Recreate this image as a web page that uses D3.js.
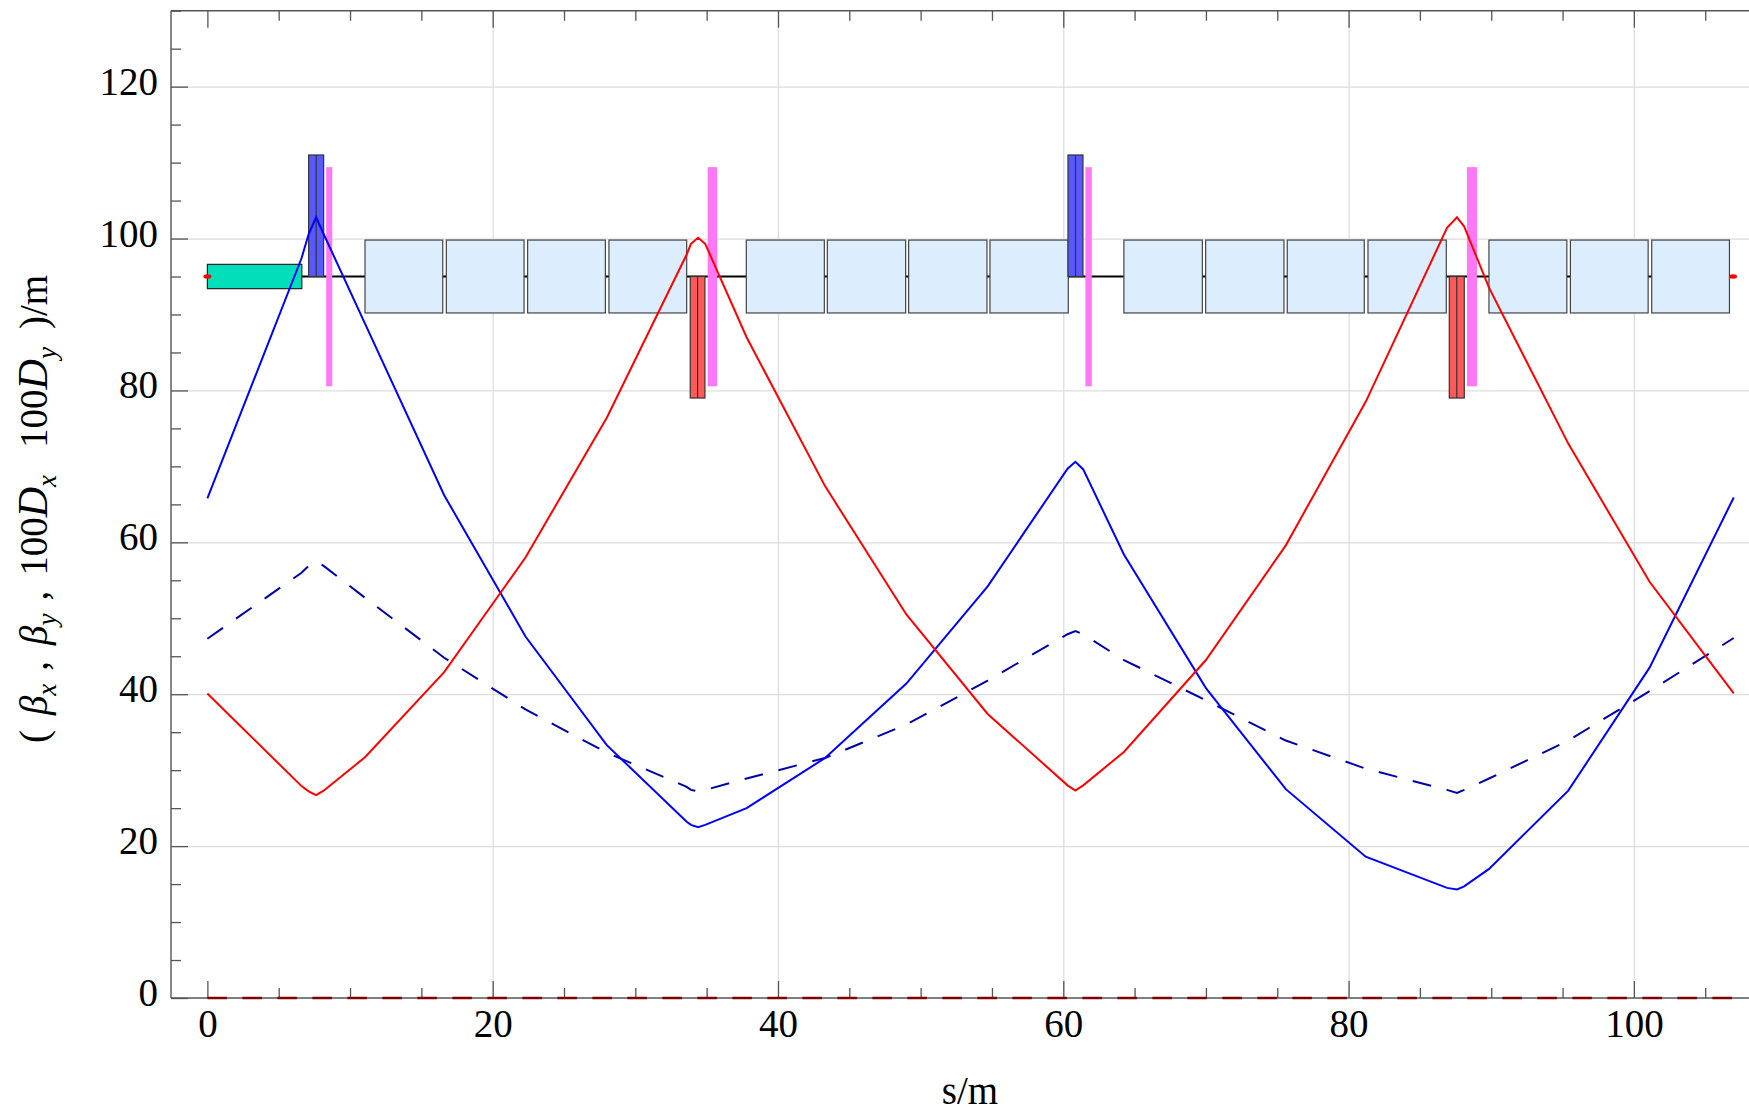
<!DOCTYPE html>
<html>
<head>
<meta charset="utf-8">
<script src="https://cdn.jsdelivr.net/npm/d3@7"></script>
<style>
body { margin: 0; background: #fff; overflow: hidden; }
text { font-family: "Liberation Serif", serif; fill: #000; }
.axis path { display: none; }
.axis line { stroke: #555; stroke-width: 1.3; }
.grid line { stroke: #ddd; stroke-width: 1.3; }
</style>
</head>
<body>
<script>
// tick values
var xMajor = [0, 20, 40, 60, 80, 100];
var xMinor = [5, 10, 15, 25, 30, 35, 45, 50, 55, 65, 70, 75, 85, 90, 95, 105];
var yMajor = [0, 20, 40, 60, 80, 100, 120];
var yMinor = [5, 10, 15, 25, 30, 35, 45, 50, 55, 65, 70, 75, 85, 90, 95, 105, 110, 115, 125, 130];

// optics (s in m)
var sNodes  = [0, 6.6, 7.1, 7.62, 8.15, 11.05, 16.6, 22.3, 28, 33.6, 33.9, 34.4, 34.9, 37.8, 43.3, 49, 54.7, 60.3, 60.85, 61.4, 64.25, 70, 75.6, 81.2, 86.9, 87.6, 88.1, 89.85, 95.4, 101.1, 107];
var betaX   = [40.1, 27.9, 27.2, 26.7, 27.3, 31.7, 42.9, 58, 76.4, 97.9, 99.3, 100.1, 99.3, 87, 67.4, 50.5, 37.4, 28, 27.3, 28, 32.4, 44.5, 59.6, 78.5, 101.4, 102.8, 101.6, 93.5, 73, 54.8, 40.1];
var betaY   = [65.8, 97.4, 100.6, 102.8, 100.6, 88.8, 66.2, 47.6, 33.3, 23.2, 22.8, 22.5, 22.8, 25, 31.6, 41.4, 54.2, 69.7, 70.6, 69.6, 58.4, 40.8, 27.5, 18.6, 14.5, 14.3, 14.7, 17, 27.3, 43.5, 65.9];
var dispX   = [47.3, 56, 56.9, 57.5, 56.9, 52.7, 44.8, 38, 32.3, 27.8, 27.4, 27.2, 27.4, 28.9, 31.6, 36, 41.8, 47.9, 48.3, 47.9, 44.5, 39.2, 33.9, 30.2, 27.4, 27, 27.4, 28.9, 33.9, 40.4, 47.4];
var dispY   = [0, 107];

// lattice elements: start and end in s
var bendStart  = [11.05, 16.75, 22.45, 28.15, 37.78, 43.46, 49.16, 54.86, 64.25, 69.98, 75.7, 81.36, 89.84, 95.55, 101.25];
var bendEnd    = [16.5, 22.2, 27.9, 33.6, 43.25, 48.95, 54.65, 60.35, 69.75, 75.47, 81.1, 86.85, 95.3, 101.0, 106.7];
var rfCavity   = [[0, 6.62]];
var focusQuad  = [[7.1, 8.15], [60.33, 61.38]];
var defocQuad  = [[33.85, 34.88], [87.06, 88.11]];
var sextupole  = [[8.33, 8.75], [35.07, 35.74], [61.55, 62.0], [88.3, 89.0]];
var beamEnds   = [0, 106.95];
var beamLevel  = 95;

var width = 1749, height = 1112;
var plot = {left: 171, top: 10.7, bottom: 998};

var x = d3.scaleLinear().domain([-2.55, 108.07]).range([plot.left, width]);
var y = d3.scaleLinear().domain([0, 130]).range([plot.bottom, plot.top]);

var svg = d3.select("body").append("svg")
    .attr("width", width)
    .attr("height", height)
    .style("display", "block");

// grid
svg.append("g").attr("class", "grid")
    .attr("transform", "translate(0," + plot.bottom + ")")
    .call(d3.axisBottom(x).tickValues(xMajor.slice(1)).tickSize(plot.top - plot.bottom).tickFormat(""));
svg.append("g").attr("class", "grid")
    .attr("transform", "translate(" + plot.left + ",0)")
    .call(d3.axisRight(y).tickValues(yMajor.slice(1)).tickSize(width - plot.left).tickFormat(""));
svg.selectAll(".grid path").remove();

// beam line
var line = d3.line()
    .x(function(d) { return x(d[0]); })
    .y(function(d) { return y(d[1]); });

svg.append("path")
    .attr("d", line(beamEnds.map(function(s) { return [s, beamLevel]; })))
    .attr("fill", "none")
    .attr("stroke", "#000")
    .attr("stroke-width", 1.8);

function drawBlocks(list, y0, y1, fill, stroke) {
  svg.append("g").selectAll("rect")
      .data(list)
    .enter().append("rect")
      .attr("x", function(d) { return x(d[0]); })
      .attr("width", function(d) { return x(d[1]) - x(d[0]); })
      .attr("y", y(y1))
      .attr("height", y(y0) - y(y1))
      .attr("fill", fill)
      .attr("stroke", stroke)
      .attr("stroke-width", stroke == "none" ? 0 : 1.2);
}

// centre line of a quadrupole block
function drawSplit(list, y0, y1) {
  svg.append("g").selectAll("line")
      .data(list)
    .enter().append("line")
      .attr("x1", function(d) { return x((d[0] + d[1]) / 2); })
      .attr("x2", function(d) { return x((d[0] + d[1]) / 2); })
      .attr("y1", y(y0))
      .attr("y2", y(y1))
      .attr("stroke", "#333")
      .attr("stroke-width", 1.2);
}

drawBlocks(bendStart.map(function(s, i) { return [s, bendEnd[i]]; }), 90.2, 99.8, "#dcedfd", "#444");
drawBlocks(rfCavity, 93.4, 96.6, "#00dfba", "#222");
drawBlocks(focusQuad, 95, 111, "#5858ff", "#333");
drawSplit(focusQuad, 95, 111);
drawBlocks(defocQuad, 79, 95, "#ff5858", "#333");
drawSplit(defocQuad, 79, 95);
drawBlocks(sextupole, 80.55, 109.4, "#ff78f8", "none");

// end markers
svg.append("g").selectAll("ellipse")
    .data(beamEnds)
  .enter().append("ellipse")
    .attr("cx", function(d) { return x(d); })
    .attr("cy", y(beamLevel))
    .attr("rx", 4)
    .attr("ry", 2.2)
    .attr("fill", "#f00");

// frame and ticks
svg.append("line").attr("class", "frame")
    .attr("x1", plot.left).attr("x2", plot.left).attr("y1", plot.top).attr("y2", plot.bottom);
svg.append("line").attr("class", "frame")
    .attr("x1", plot.left).attr("x2", width).attr("y1", plot.top).attr("y2", plot.top);
svg.append("line").attr("class", "frame")
    .attr("x1", plot.left).attr("x2", width).attr("y1", plot.bottom).attr("y2", plot.bottom);
svg.selectAll(".frame").attr("stroke", "#555").attr("stroke-width", 1.4);

var major = 17, minor = 10;

svg.append("g").attr("class", "axis")
    .attr("transform", "translate(0," + plot.bottom + ")")
    .call(d3.axisBottom(x).tickValues(xMajor).tickSize(-major).tickPadding(39).tickFormat(d3.format("d")));
svg.append("g").attr("class", "axis")
    .attr("transform", "translate(0," + plot.bottom + ")")
    .call(d3.axisBottom(x).tickValues(xMinor).tickSize(-minor).tickFormat(""));
svg.append("g").attr("class", "axis")
    .attr("transform", "translate(0," + plot.top + ")")
    .call(d3.axisTop(x).tickValues(xMajor).tickSize(-major).tickFormat(""));
svg.append("g").attr("class", "axis")
    .attr("transform", "translate(0," + plot.top + ")")
    .call(d3.axisTop(x).tickValues(xMinor).tickSize(-minor).tickFormat(""));
svg.append("g").attr("class", "axis")
    .attr("transform", "translate(" + plot.left + ",0)")
    .call(d3.axisLeft(y).tickValues(yMajor).tickSize(-major).tickPadding(13).tickFormat(d3.format("d")));
svg.append("g").attr("class", "axis")
    .attr("transform", "translate(" + plot.left + ",0)")
    .call(d3.axisLeft(y).tickValues(yMinor).tickSize(-minor).tickFormat(""));

svg.selectAll(".axis text")
    .attr("font-family", "Liberation Serif")
    .attr("font-size", 39)
    .attr("fill", "#000");
// labels sit a little above the tick on the y axis
svg.selectAll(".axis text").filter(function() { return this.getAttribute("x") != null && +this.getAttribute("x") < 0; })
    .attr("dy", null)
    .attr("y", 7.5);
svg.selectAll(".axis text").filter(function() { return this.getAttribute("y") == "39"; })
    .attr("dy", null);

// curves
function pairs(vals) { return sNodes.map(function(s, i) { return [s, vals[i]]; }); }

svg.append("path").attr("d", line(pairs(dispX)))
    .attr("fill", "none").attr("stroke", "#0000aa").attr("stroke-width", 2)
    .attr("stroke-dasharray", "19,16");
svg.append("path").attr("d", line(dispY.map(function(s) { return [s, 0]; })))
    .attr("fill", "none").attr("stroke", "#800000").attr("stroke-width", 2.4)
    .attr("stroke-dasharray", "19.5,15.5");
svg.append("path").attr("d", line(pairs(betaY)))
    .attr("fill", "none").attr("stroke", "#0000ff").attr("stroke-width", 2);
svg.append("path").attr("d", line(pairs(betaX)))
    .attr("fill", "none").attr("stroke", "#ff0000").attr("stroke-width", 2);

// axis titles
svg.append("text")
    .attr("x", 970)
    .attr("y", 1103.5)
    .attr("text-anchor", "middle")
    .attr("font-size", 39)
    .text("s/m");

var title = svg.append("text")
    .attr("transform", "translate(47,509) rotate(-90)")
    .attr("text-anchor", "middle")
    .attr("font-size", 39);

// text, subscript drop, italic, gap before
var titleParts = [
  ["(", 0, false, 0], ["\u03b2", 0, true, 15], ["x", 9, true, 0], [",", 0, false, 13],
  ["\u03b2", 0, true, 16], ["y", 9, true, 0], [",", 0, false, 13], ["100", 0, false, 15],
  ["D", 0, true, 0], ["x", 9, true, 0], ["100", 0, false, 27], ["D", 0, true, 0],
  ["y", 9, true, 0], [")/m", 0, false, 18]
];
var lastShift = 0;
titleParts.forEach(function(p) {
  title.append("tspan")
      .attr("font-style", p[2] ? "italic" : "normal")
      .attr("font-size", p[1] ? 27 : (p[0] == "D" ? 42 : 39))
      .attr("dx", p[3])
      .attr("dy", p[1] - lastShift)
      .text(p[0]);
  lastShift = p[1];
});
</script>
</body>
</html>
